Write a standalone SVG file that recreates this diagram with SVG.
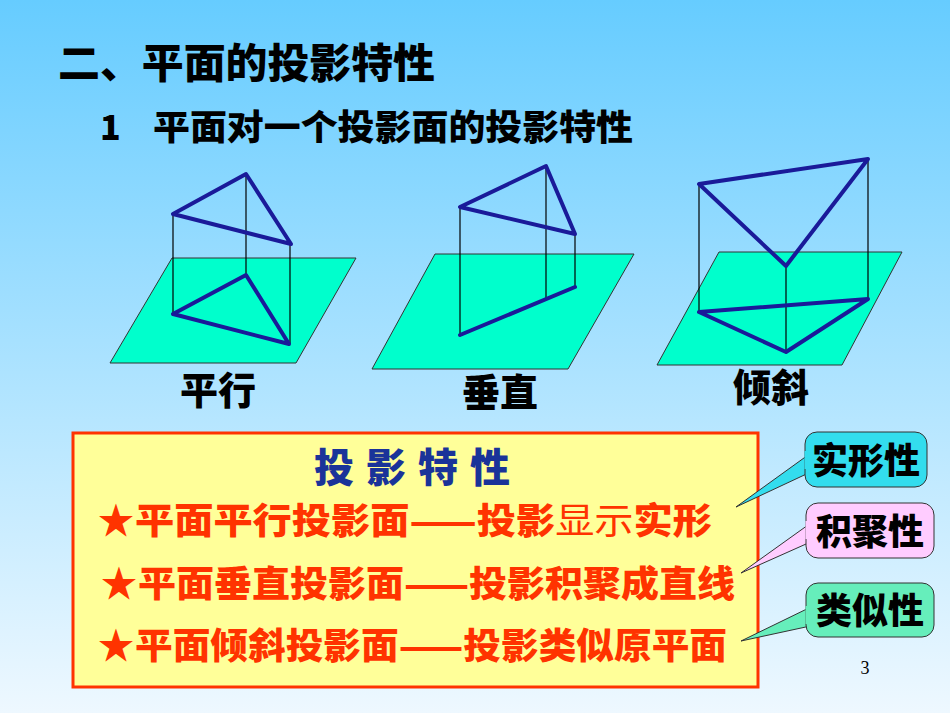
<svg xmlns="http://www.w3.org/2000/svg" width="950" height="713" viewBox="0 0 950 713">
<defs>
<linearGradient id="bg" x1="0" y1="0" x2="0" y2="1">
<stop offset="0" stop-color="#66ccff"/><stop offset="1" stop-color="#eef8ff"/>
</linearGradient>
<style>
.pl{fill:#00ffcc;stroke:#333;stroke-width:1}
.e{fill:none;stroke:#1a1a99;stroke-width:4;stroke-linejoin:round;stroke-linecap:round}
.v{stroke:#000;stroke-width:1.2}
.t{font-family:"Noto Sans CJK SC",sans-serif;font-weight:900}
.lab{font-size:38px;fill:#000;text-anchor:middle}
.r{font-size:36px;fill:#ff3300}
.co{stroke:#333;stroke-width:1}
.ct{font-size:36px;fill:#000;text-anchor:middle}
</style>
</defs>
<rect width="950" height="713" fill="url(#bg)"/>
<text class="t" x="58" y="78" font-size="41" textLength="377" lengthAdjust="spacingAndGlyphs">二、平面的投影特性</text>
<text class="t" x="100" y="140" font-size="34">1</text>
<text class="t" x="153" y="140" font-size="35" textLength="480" lengthAdjust="spacingAndGlyphs">平面对一个投影面的投影特性</text>
<g id="parallel">
<polygon class="pl" points="172,258 356,258 296,363 110,363"/>
<line class="v" x1="173" y1="214" x2="173" y2="314"/><line class="v" x1="246" y1="174" x2="246" y2="275"/><line class="v" x1="290" y1="244" x2="290" y2="344"/>
<polygon class="e" points="246,174 173,214 291,244"/>
<polygon class="e" points="246,275 173,314 289,344"/>
<text class="t lab" x="218" y="404">平行</text>
</g>
<g id="perpendicular">
<polygon class="pl" points="435,254 634,254 568,369 372,369"/>
<line class="v" x1="460" y1="207" x2="460" y2="335"/><line class="v" x1="546" y1="166" x2="546" y2="300"/><line class="v" x1="575" y1="234" x2="575" y2="287"/>
<polygon class="e" points="546,166 460,207 575,234"/>
<line class="e" x1="460" y1="335" x2="575" y2="287"/>
<text class="t lab" x="500" y="406">垂直</text>
</g>
<g id="inclined">
<polygon class="pl" points="719,252 902,252 842,365 657,365"/>
<line class="v" x1="699" y1="184" x2="699" y2="312"/><line class="v" x1="868" y1="159" x2="868" y2="299"/><line class="v" x1="786" y1="266" x2="786" y2="352"/>
<polygon class="e" points="699,184 868,159 786,266"/>
<polygon class="e" points="699,312 868,299 786,352"/>
<text class="t lab" x="771" y="401">倾斜</text>
</g>
<g id="box">
<rect x="73" y="433" width="685" height="254" fill="#ffff99" stroke="#ff3300" stroke-width="3"/>
<text class="t" x="418" y="482" font-size="40" fill="#1a3399" text-anchor="middle" letter-spacing="12">投影特性</text>
<text class="t r" x="98" y="534" font-size="28">★</text>
<text class="t r" x="135" y="534" textLength="577" lengthAdjust="spacingAndGlyphs">平面平行投影面——投影<tspan font-weight="normal">显示</tspan>实形</text>
<text class="t r" x="101" y="597" font-size="28">★</text>
<text class="t r" x="138" y="597" textLength="597" lengthAdjust="spacingAndGlyphs">平面垂直投影面——投影积聚成直线</text>
<text class="t r" x="98" y="659" font-size="28">★</text>
<text class="t r" x="135" y="659" textLength="592" lengthAdjust="spacingAndGlyphs">平面倾斜投影面——投影类似原平面</text>
</g>
<g id="connectors">
<polygon class="co" fill="#33ddee" points="736,507 815,470 815,450"/>
<polygon class="co" fill="#ffccff" points="741,573 815,540 815,520"/>
<polygon class="co" fill="#66eebb" points="741,641 815,625 815,605"/>
</g>
<g id="c1"><rect x="805" y="432" width="122" height="55" rx="12" fill="#33ddee" stroke="#333"/><line x1="806" y1="451" x2="806" y2="469" stroke="#33ddee" stroke-width="3"/><text class="t ct" x="866" y="474">实形性</text></g>
<g id="c2"><rect x="806" y="503" width="128" height="55" rx="12" fill="#ffccff" stroke="#333"/><line x1="807" y1="521" x2="807" y2="539" stroke="#ffccff" stroke-width="3"/><text class="t ct" x="870" y="545">积聚性</text></g>
<g id="c3"><rect x="806" y="583" width="128" height="54" rx="12" fill="#66eebb" stroke="#333"/><line x1="807" y1="606" x2="807" y2="624" stroke="#66eebb" stroke-width="3"/><text class="t ct" x="870" y="624">类似性</text></g>
<text x="865" y="674" font-family="Liberation Serif,serif" font-size="18" text-anchor="middle">3</text>
</svg>
